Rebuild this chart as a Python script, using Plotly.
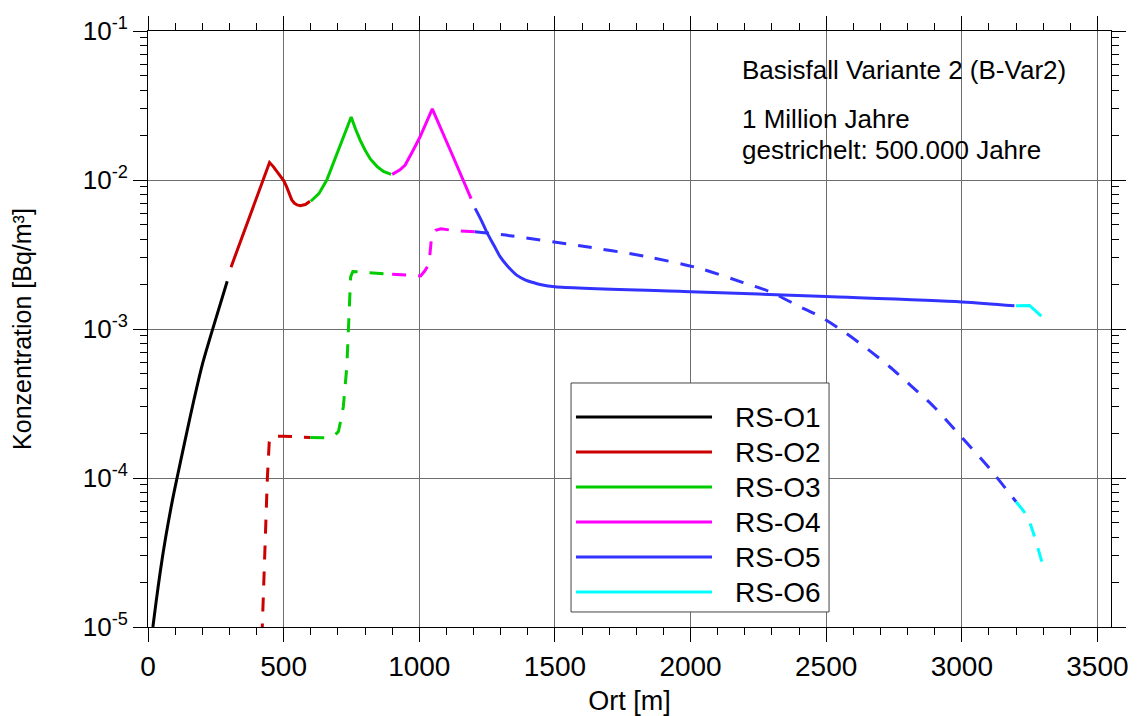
import plotly.graph_objects as go

# ---------------- data ----------------
names = ["RS-O1", "RS-O2", "RS-O3", "RS-O4", "RS-O5", "RS-O6"]
colors = ["#000000", "#cc0000", "#00cc00", "#ff00ff", "#3333ff", "#00ffff"]

# solid: 1 Million Jahre
o1_x = [18, 30, 45, 65, 90, 107, 140, 170, 200, 242, 292]
o1_y = [1e-5, 1.48e-5, 2.34e-5, 3.98e-5, 7.08e-5, 1e-4, 1.91e-4, 3.39e-4, 5.75e-4, 1.05e-3, 2.09e-3]
o2_x = [306, 380, 448, 462, 475, 488, 500, 510, 520, 530, 540, 550, 561, 580, 597]
o2_y = [2.6e-3, 6.0e-3, 1.31e-2, 1.23e-2, 1.14e-2, 1.065e-2, 9.9e-3, 9.1e-3, 8.1e-3, 7.35e-3,
        6.98e-3, 6.8e-3, 6.73e-3, 6.85e-3, 7.2e-3]
o3_x = [600, 630, 659, 702, 730, 749, 765, 782, 800, 820, 845, 868, 896]
o3_y = [7.2e-3, 8.1e-3, 1.0e-2, 1.59e-2, 2.15e-2, 2.65e-2, 2.2e-2, 1.85e-2, 1.59e-2, 1.38e-2,
        1.23e-2, 1.14e-2, 1.09e-2]
o4_x = [900, 929, 948, 963, 978, 1003, 1025, 1048, 1120, 1191]
o4_y = [1.09e-2, 1.17e-2, 1.26e-2, 1.4e-2, 1.59e-2, 1.95e-2, 2.4e-2, 3.0e-2, 1.5e-2, 7.5e-3]
o5_x = [1206, 1230, 1251, 1275, 1298, 1325, 1359, 1390, 1420, 1450, 1500, 2000, 2500, 3000, 3194]
o5_y = [6.45e-3, 5.3e-3, 4.38e-3, 3.65e-3, 3.06e-3, 2.65e-3, 2.30e-3, 2.14e-3, 2.05e-3, 1.98e-3,
        1.92e-3, 1.78e-3, 1.65e-3, 1.52e-3, 1.43e-3]
o6_x = [3200, 3250, 3293]
o6_y = [1.43e-3, 1.44e-3, 1.22e-3]

# dashed: 500.000 Jahre
o2d_x = [420, 432, 440, 447, 458, 500, 560, 598]
o2d_y = [8.5e-6, 4.3e-5, 1.0e-4, 1.75e-4, 1.91e-4, 1.91e-4, 1.88e-4, 1.87e-4]
o3d_x = [598, 659, 690, 702, 712, 720, 733, 741, 747, 755, 800, 837, 870, 900]
o3d_y = [1.87e-4, 1.86e-4, 1.95e-4, 2.05e-4, 2.5e-4, 3.0e-4, 5.6e-4, 1.21e-3, 2.24e-3,
         2.43e-3, 2.4e-3, 2.38e-3, 2.35e-3, 2.33e-3]
o4d_x = [900, 950, 1005, 1020, 1036, 1046, 1060, 1080, 1132, 1205]
o4d_y = [2.33e-3, 2.3e-3, 2.27e-3, 2.45e-3, 2.73e-3, 4.3e-3, 4.6e-3, 4.7e-3, 4.57e-3, 4.5e-3]
o5d_x = [1205, 1334, 1592, 1838, 2034, 2194, 2292, 2390, 2482, 2568, 2654, 2734, 2814,
         2893, 2998, 3102, 3200]
o5d_y = [4.5e-3, 4.23e-3, 3.62e-3, 3.06e-3, 2.55e-3, 2.05e-3, 1.78e-3, 1.45e-3, 1.2e-3,
         9.5e-4, 7.3e-4, 5.58e-4, 4.14e-4, 3.06e-4, 1.89e-4, 1.16e-4, 6.93e-5]
o6d_x = [3200, 3235, 3256, 3295]
o6d_y = [6.93e-5, 5.73e-5, 4.71e-5, 2.74e-5]

solid = [(o1_x, o1_y), (o2_x, o2_y), (o3_x, o3_y), (o4_x, o4_y), (o5_x, o5_y), (o6_x, o6_y)]
dashed = [None, (o2d_x, o2d_y), (o3d_x, o3d_y), (o4d_x, o4d_y), (o5d_x, o5d_y), (o6d_x, o6d_y)]
smooth_solid = [True, False, False, False, True, False]
smooth_dashed = [False, False, False, False, True, True]

x_ticks = [0, 500, 1000, 1500, 2000, 2500, 3000, 3500]
y_ticks = [1e-5, 1e-4, 1e-3, 1e-2, 1e-1]
y_ticktext = ["10<sup>-5</sup>", "10<sup>-4</sup>", "10<sup>-3</sup>", "10<sup>-2</sup>", "10<sup>-1</sup>"]
y_minor = [m * 10.0 ** e for e in range(-5, -1) for m in range(2, 10)]

note_lines = ["Basisfall Variante 2 (B-Var2)", "1 Million Jahre", "gestrichelt: 500.000 Jahre"]

FONT = "Liberation Sans, Arial, Helvetica, sans-serif"

fig = go.Figure()
for i, name in enumerate(names):
    if dashed[i] is not None:
        fig.add_trace(go.Scatter(x=dashed[i][0], y=dashed[i][1], mode="lines", name=name + " (500.000 a)",
                                 line=dict(color=colors[i], width=3, dash="14px,12px",
                                           shape="spline" if smooth_dashed[i] else "linear",
                                           smoothing=0.8),
                                 showlegend=False))
for i, name in enumerate(names):
    fig.add_trace(go.Scatter(x=solid[i][0], y=solid[i][1], mode="lines", name=name,
                             line=dict(color=colors[i], width=3,
                                       shape="spline" if smooth_solid[i] else "linear",
                                       smoothing=0.8),
                             showlegend=False))

axis_common = dict(showline=True, linecolor="black", linewidth=1, mirror="allticks",
                   ticks="outside", ticklen=14, tickcolor="black", tickwidth=1,
                   showgrid=True, gridcolor="#6e6e6e", gridwidth=1, zeroline=False,
                   automargin=False)

fig.update_xaxes(range=[0, 3550], tickvals=x_ticks, **axis_common,
                 tickfont=dict(family=FONT, size=28, color="black"),
                 minor=dict(ticks="outside", ticklen=7, dtick=100, tick0=0, showgrid=False,
                            tickcolor="black"),
                 title=dict(text="Ort [m]", font=dict(family=FONT, size=27, color="black"), standoff=12))
fig.update_yaxes(type="log", range=[-5, -1], tickvals=y_ticks, ticktext=y_ticktext, **axis_common,
                 tickfont=dict(family=FONT, size=26, color="black"),
                 minor=dict(ticks="outside", ticklen=7, tickvals=y_minor, showgrid=False,
                            tickcolor="black"),
                 title=dict(text="Konzentration [Bq/m³]", font=dict(family=FONT, size=25, color="black"),
                            standoff=43))

# annotation text block
note_y = [0.9346, 0.8523, 0.8003]
for t, yy in zip(note_lines, note_y):
    fig.add_annotation(text=t, xref="paper", yref="paper", x=0.6148, y=yy, xanchor="left",
                       yanchor="middle", showarrow=False,
                       font=dict(family=FONT, size=26, color="black"))

# custom legend (long line samples as in the reference)
fig.add_shape(type="rect", xref="paper", yref="paper", x0=0.4393, x1=0.7072, y0=0.0252, y1=0.4094,
              line=dict(color="#444444", width=1), fillcolor="white", layer="above")
for i, name in enumerate(names):
    yy = 0.3523 - i * 0.05872
    fig.add_shape(type="line", xref="paper", yref="paper", x0=0.4444, x1=0.5857, y0=yy, y1=yy,
                  line=dict(color=colors[i], width=3), layer="above")
    fig.add_annotation(text=name, xref="paper", yref="paper", x=0.6075, y=yy, xanchor="left",
                       yanchor="middle", showarrow=False,
                       font=dict(family=FONT, size=28, color="black"))

fig.update_layout(width=1137, height=716, margin=dict(l=148, r=26, t=31, b=89, autoexpand=False),
                  plot_bgcolor="white", paper_bgcolor="white",
                  font=dict(family=FONT, color="black"), showlegend=False)

fig.write_html("out.html", config={"displayModeBar": False},
               post_script="document.body.style.margin='0px';")
